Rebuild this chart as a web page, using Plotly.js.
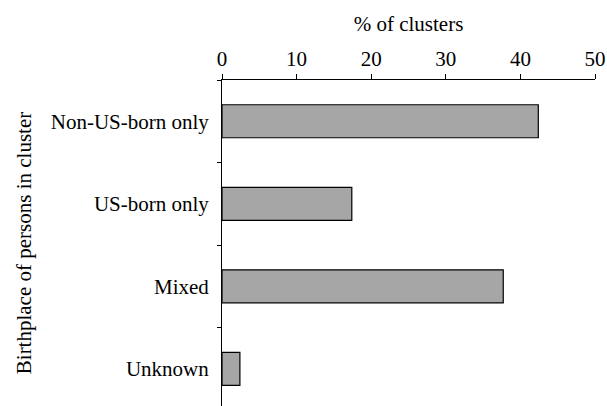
<!DOCTYPE html>
<html>
<head>
<meta charset="utf-8">
<script src="https://cdn.plot.ly/plotly-3.0.1.min.js"></script>
<style>
html,body{margin:0;padding:0;background:#fff;}
#chart{width:607px;height:406px;}
#chart svg text{font-family:"Liberation Serif","Times New Roman",serif !important;}
</style>
</head>
<body>
<div id="chart"></div>
<script>
var categories = ["Non-US-born only", "US-born only", "Mixed", "Unknown"];
var percentClusters = [42.4, 17.4, 37.7, 2.4];
var xTickValues = [0, 10, 20, 30, 40, 50];

var fontFamily = "Liberation Serif";
var fontSize = 21;

var trace = {
  type: "bar",
  orientation: "h",
  y: categories,
  x: percentClusters,
  width: 0.4,
  marker: {color: "#a6a6a6", line: {color: "#000", width: 1.2}},
  hoverinfo: "none"
};

var layout = {
  width: 607,
  height: 406,
  margin: {l: 222, r: 12, t: 80, b: 0, pad: 0},
  paper_bgcolor: "#fff",
  plot_bgcolor: "#fff",
  showlegend: false,
  font: {family: fontFamily, size: fontSize, color: "#000"},
  xaxis: {
    side: "top",
    range: [0, 50],
    tickvals: xTickValues,
    ticktext: xTickValues.map(String),
    ticks: "outside",
    ticklen: 5,
    tickcolor: "#000",
    tickwidth: 1,
    showline: true,
    linecolor: "#000",
    linewidth: 1,
    showgrid: false,
    zeroline: false,
    tickfont: {family: fontFamily, size: fontSize, color: "#000"},
    title: {text: "% of clusters", font: {family: fontFamily, size: fontSize, color: "#000"}, standoff: 9}
  },
  yaxis: {
    type: "category",
    categoryorder: "array",
    categoryarray: categories,
    range: [3.45, -0.5],
    tickson: "boundaries",
    ticks: "outside",
    ticklen: 4,
    tickcolor: "#000",
    tickwidth: 1,
    showline: true,
    linecolor: "#000",
    linewidth: 1,
    showgrid: false,
    zeroline: false,
    ticklabelstandoff: 8,
    tickfont: {family: fontFamily, size: fontSize, color: "#000"},
    title: {text: "Birthplace of persons in cluster", font: {family: fontFamily, size: fontSize, color: "#000"}, standoff: 13}
  }
};

Plotly.newPlot("chart", [trace], layout, {displayModeBar: false, staticPlot: true});
</script>
</body>
</html>
